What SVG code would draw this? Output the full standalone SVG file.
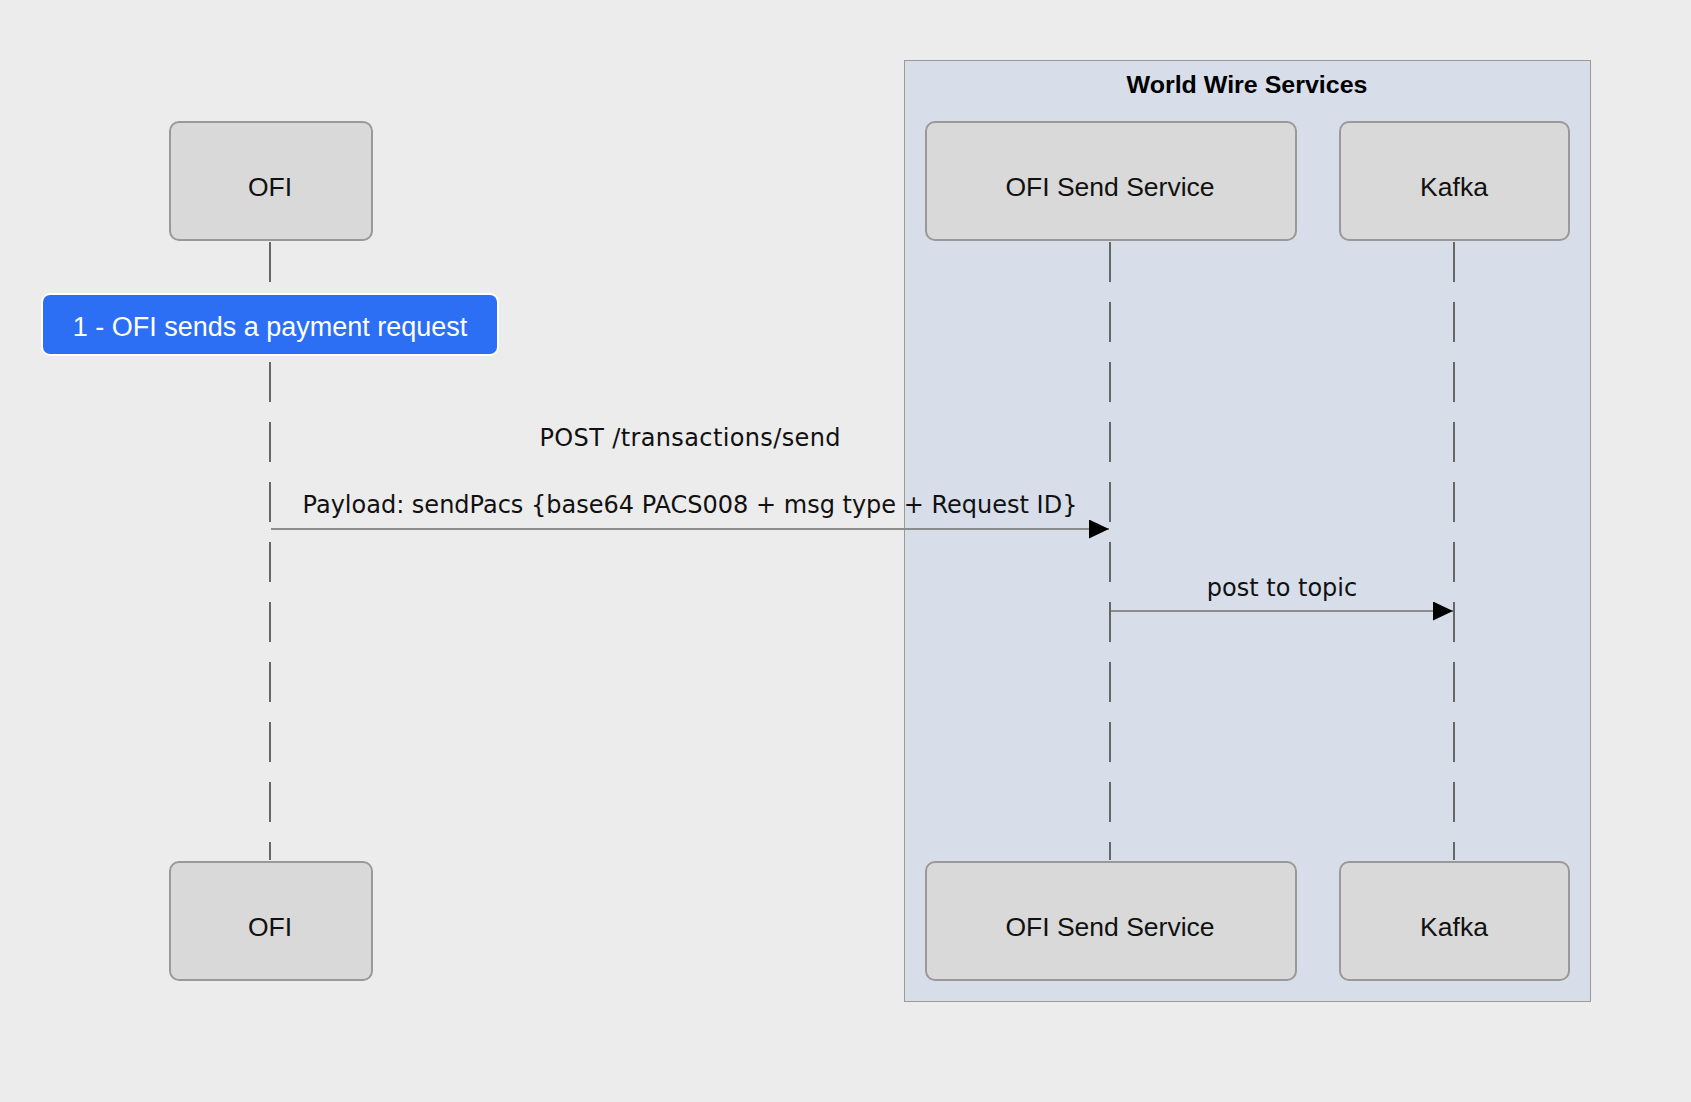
<svg xmlns="http://www.w3.org/2000/svg" width="1691" height="1102" viewBox="0 0 1691 1102">
<defs>
<style>
.bg{fill:#ececec}
.group{fill:#d7deea;stroke:#9a9a9a;stroke-width:1}
.title{font-family:"Liberation Sans",Arial,sans-serif;font-size:23px;font-weight:bold;fill:#000;text-anchor:middle}
.box{fill:#d9d9d9;stroke:#999;stroke-width:2}
.lbl{font-family:"Liberation Sans",Arial,sans-serif;font-size:26.5px;fill:#111;text-anchor:middle}
.life{stroke:#666;stroke-width:2;stroke-dasharray:40 20;fill:none}
.msg{stroke:#8c8c8c;stroke-width:2;fill:none}
.mlbl{font-family:"DejaVu Sans",sans-serif;font-size:24px;fill:#111;text-anchor:middle}
.note{fill:#2c6ff5;stroke:#ffffff;stroke-width:2}
.nlbl{font-family:"Liberation Sans",Arial,sans-serif;font-size:27px;fill:#fff;text-anchor:middle}
</style>
<marker id="arr" viewBox="0 0 20 19" refX="20" refY="9.5" markerWidth="20" markerHeight="19" markerUnits="userSpaceOnUse" orient="auto">
<path d="M0,0 L20,9.5 L0,19 Z" fill="#000"/>
</marker>
</defs>
<rect class="bg" x="0" y="0" width="1691" height="1102"/>
<g id="world-wire-services">
<rect class="group" x="904.5" y="60.5" width="686" height="941"/>
<text class="title" x="1247" y="93" textLength="241" lengthAdjust="spacingAndGlyphs">World Wire Services</text>
</g>
<g id="lifelines">
<line class="life" x1="270" y1="242" x2="270" y2="860"/>
<line class="life" x1="1110" y1="242" x2="1110" y2="860"/>
<line class="life" x1="1454" y1="242" x2="1454" y2="860"/>
</g>
<g id="ofi-top"><rect class="box" x="170" y="122" width="202" height="118" rx="9"/><text class="lbl" x="270" y="196">OFI</text></g>
<g id="ofi-send-top"><rect class="box" x="926" y="122" width="370" height="118" rx="9"/><text class="lbl" x="1110" y="196">OFI Send Service</text></g>
<g id="kafka-top"><rect class="box" x="1340" y="122" width="229" height="118" rx="9"/><text class="lbl" x="1454" y="196">Kafka</text></g>
<g id="ofi-bottom"><rect class="box" x="170" y="862" width="202" height="118" rx="9"/><text class="lbl" x="270" y="936">OFI</text></g>
<g id="ofi-send-bottom"><rect class="box" x="926" y="862" width="370" height="118" rx="9"/><text class="lbl" x="1110" y="936">OFI Send Service</text></g>
<g id="kafka-bottom"><rect class="box" x="1340" y="862" width="229" height="118" rx="9"/><text class="lbl" x="1454" y="936">Kafka</text></g>
<g id="note-1">
<rect class="note" x="42" y="294" width="456" height="61" rx="8"/>
<text class="nlbl" x="270" y="336">1 - OFI sends a payment request</text>
</g>
<g id="connectors">
<line class="msg" x1="271" y1="529" x2="1109" y2="529" marker-end="url(#arr)"/>
<text class="mlbl" x="690" y="446" textLength="301">POST /transactions/send</text>
<text class="mlbl" x="690" y="513">Payload: sendPacs {base64 PACS008 + msg type + Request ID}</text>
<line class="msg" x1="1111" y1="611" x2="1453" y2="611" marker-end="url(#arr)"/>
<text class="mlbl" x="1282" y="596">post to topic</text>
</g>
</svg>
